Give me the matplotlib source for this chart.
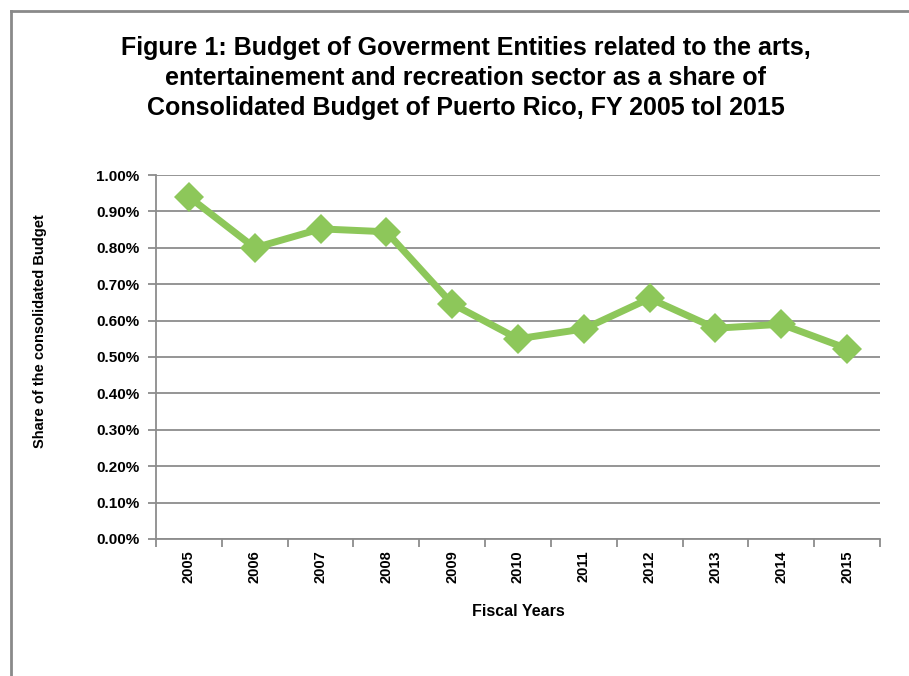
import matplotlib
matplotlib.use("Agg")
import matplotlib.pyplot as plt
from matplotlib.lines import Line2D
from matplotlib.ticker import FuncFormatter, MultipleLocator

# Fiscal years and share of the consolidated budget (percent)
years = ["2005", "2006", "2007", "2008", "2009", "2010",
         "2011", "2012", "2013", "2014", "2015"]
share_pct = [0.94, 0.80, 0.852, 0.844, 0.646, 0.55,
             0.577, 0.661, 0.579, 0.59, 0.523]

title = ("Figure 1: Budget of Goverment Entities related to the arts,\n"
         "entertainement and recreation sector as a share of\n"
         "Consolidated Budget of Puerto Rico, FY 2005 tol 2015")

plt.rcParams["font.family"] = ["Liberation Sans", "DejaVu Sans"]

fig = plt.figure(figsize=(9.09, 6.76), dpi=100)
W, H = 909, 676

# outer chart-area frame (top and left edges visible)
fig.add_artist(Line2D([11 / W, 1.0], [1 - 11 / H, 1 - 11 / H],
                      transform=fig.transFigure, color="#8a8a8a", lw=2))
fig.add_artist(Line2D([11 / W, 11 / W], [0.0, 1 - 11 / H],
                      transform=fig.transFigure, color="#8a8a8a", lw=2))

ax = fig.add_axes([156 / W, 1 - 539 / H, (880 - 156) / W, (539 - 175) / H])

x = list(range(len(years)))
ax.plot(x, share_pct, color="#8DC75A", lw=5, marker="D", markersize=15,
        markeredgewidth=0, solid_joinstyle="miter", zorder=3)

ax.set_xlim(-0.5, len(years) - 0.5)
ax.set_ylim(0, 1.0)
ax.yaxis.set_major_locator(MultipleLocator(0.1))
ax.yaxis.set_major_formatter(FuncFormatter(lambda v, p: f"{v:.2f}%"))
ax.grid(axis="y", color="#8c8c8c", lw=1.3, zorder=0)

ax.set_xticks(x)
ax.set_xticklabels(years, rotation=90, fontweight="bold", fontsize=10.5)
ax.set_xticks([i - 0.5 for i in range(len(years) + 1)], minor=True)
ax.tick_params(axis="x", which="major", length=0, pad=8)
ax.tick_params(axis="x", which="minor", length=6, color="#8c8c8c", width=1.3)
ax.tick_params(axis="y", length=6, color="#8c8c8c", width=1.3, pad=6,
               labelsize=11)
for lbl in ax.get_yticklabels():
    lbl.set_fontweight("bold")

for side in ("top", "right"):
    ax.spines[side].set_visible(False)
for side in ("left", "bottom"):
    ax.spines[side].set_color("#8c8c8c")
    ax.spines[side].set_linewidth(1.3)

ax.set_xlabel("Fiscal Years", fontsize=11.5, fontweight="bold", labelpad=15)
fig.text(40 / W, 1 - 331 / H, "Share of the consolidated Budget",
         rotation=90, ha="center", va="center", fontsize=10.5,
         fontweight="bold")

fig.text(466 / W, 1 - 78 / H, title, ha="center", va="center",
         fontsize=18, fontweight="bold", linespacing=1.3)

fig.savefig("out.png", dpi=100)
